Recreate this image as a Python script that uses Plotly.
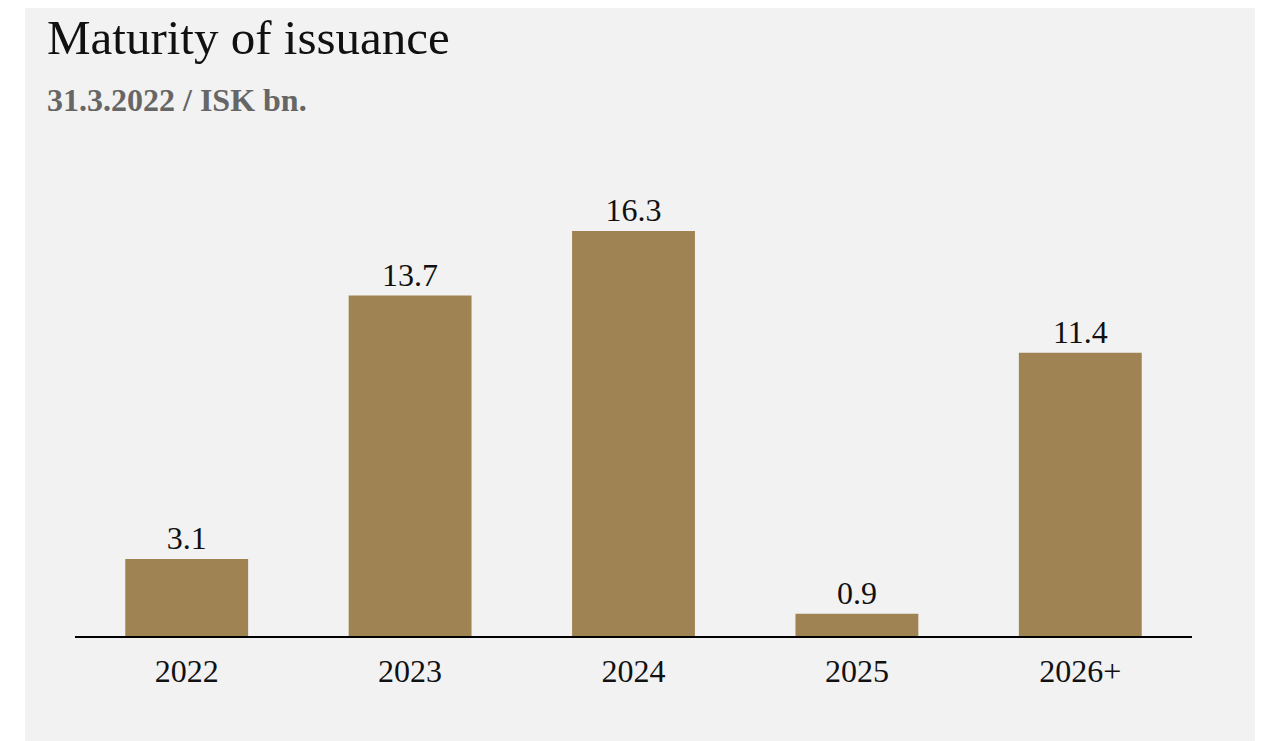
import plotly.graph_objects as go

categories = ["2022", "2023", "2024", "2025", "2026+"]
values = [3.1, 13.7, 16.3, 0.9, 11.4]
value_labels = ["3.1", "13.7", "16.3", "0.9", "11.4"]
title_text = "Maturity of issuance"
subtitle_text = "31.3.2022 / ISK bn."

W, H = 1263, 741
OFF = 8  # page body margin offset
ML, MR, MT, MB = 67, 79, 122, 113
PW = W - ML - MR
PH = H - MT - MB

def px_x(x):
    # x given in screenshot pixels
    return (x - OFF - ML) / PW

def px_y(y):
    return (H - MB - (y - OFF)) / PH

BG = "#F2F2F2"
BAR = "#A08353"
FONT = "Liberation Serif"

fig = go.Figure(
    go.Bar(
        x=categories,
        y=values,
        text=value_labels,
        textposition="outside",
        textfont=dict(family=FONT, size=32, color="#111111"),
        marker=dict(color=BAR, line=dict(width=0)),
        cliponaxis=False,
        hoverinfo="skip",
    )
)

fig.update_layout(
    width=W,
    height=H,
    margin=dict(l=ML, r=MR, t=MT, b=MB, pad=0),
    paper_bgcolor="white",
    plot_bgcolor=BG,
    bargap=0.45,
    showlegend=False,
    xaxis=dict(
        showline=True,
        linecolor="black",
        linewidth=2,
        showgrid=False,
        ticks="",
        tickfont=dict(family=FONT, size=32, color="#111111"),
        ticklabelstandoff=6,
        fixedrange=True,
    ),
    yaxis=dict(
        range=[0, 20.36],
        visible=False,
        showgrid=False,
        zeroline=False,
        fixedrange=True,
    ),
    shapes=[
        dict(
            type="rect",
            xref="paper",
            yref="paper",
            x0=px_x(25),
            x1=px_x(1257),
            y0=px_y(760),
            y1=px_y(7),
            fillcolor=BG,
            line=dict(width=0),
            layer="below",
        )
    ],
    annotations=[
        dict(
            text=title_text,
            xref="paper",
            yref="paper",
            x=px_x(45),
            y=px_y(38),
            xanchor="left",
            yanchor="middle",
            showarrow=False,
            font=dict(family=FONT, size=49, color="#111111"),
        ),
        dict(
            text="<b>" + subtitle_text + "</b>",
            xref="paper",
            yref="paper",
            x=px_x(45),
            y=px_y(100),
            xanchor="left",
            yanchor="middle",
            showarrow=False,
            font=dict(family=FONT, size=32, color="#666666"),
        ),
    ],
)

fig.write_html("out.html")
